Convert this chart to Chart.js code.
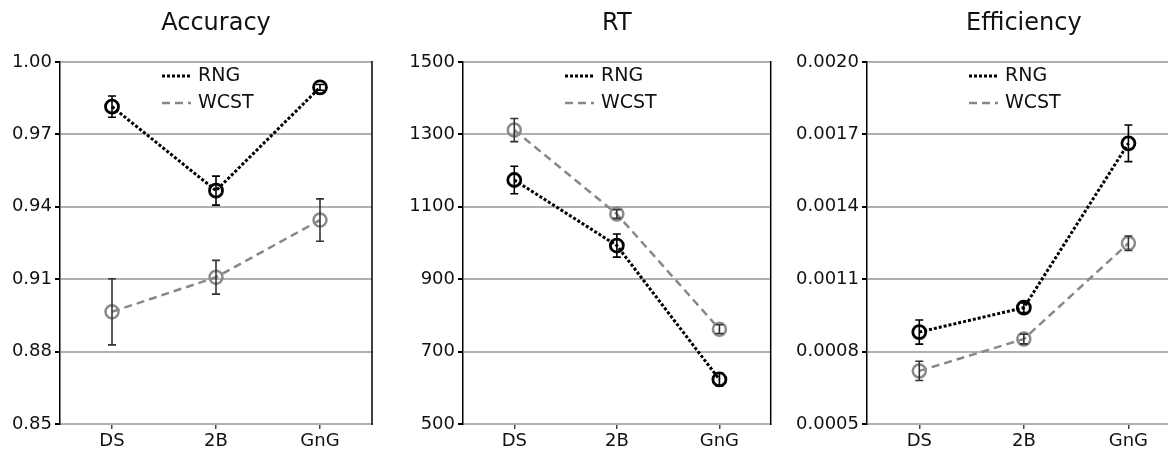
<!DOCTYPE html>
<html>
<head>
<meta charset="utf-8">
<script src="https://cdn.jsdelivr.net/npm/chart.js@4"></script>
<style>
html, body { margin: 0; padding: 0; overflow: hidden; background: #fff; width: 1168px; height: 450px; }
.panel { position: absolute; top: 0; height: 450px; }
</style>
</head>
<body>
<div class="panel" style="left:0px;width:390px"><canvas id="acc"></canvas></div>
<div class="panel" style="left:390px;width:390px"><canvas id="rt"></canvas></div>
<div class="panel" style="left:780px;width:410px"><canvas id="eff"></canvas></div>
<script>
const categories = ['DS', '2B', 'GnG'];

const accRng = [0.9815, 0.9467, 0.9895];
const accRngErr = [0.0044, 0.006, 0.0012];
const accWcst = [0.8965, 0.9108, 0.9345];
const accWcstErr = [0.0137, 0.007, 0.0088];
const accTicks = [0.85, 0.88, 0.91, 0.94, 0.97, 1.00];

const rtRng = [1174, 993, 623];
const rtRngErr = [38, 32, 18];
const rtWcst = [1312, 1080, 762];
const rtWcstErr = [32, 12, 12];
const rtTicks = [500, 700, 900, 1100, 1300, 1500];

const effRng = [0.000881, 0.000982, 0.001663];
const effRngErr = [0.00005, 0.00002, 0.000076];
const effWcst = [0.00072, 0.000852, 0.001249];
const effWcstErr = [0.00004, 0.00002, 0.00003];
const effTicks = [0.0005, 0.0008, 0.0011, 0.0014, 0.0017, 0.0020];

const FONT = 'DejaVu Sans';

// title over the plot area, error bars, right spine and the in-plot legend
const extras = {
  id: 'extras',
  afterDatasetsDraw(chart, args, opts) {
    const ctx = chart.ctx;
    const xs = chart.scales.x, ys = chart.scales.y;
    chart.data.datasets.forEach((ds) => {
      ctx.save();
      ctx.strokeStyle = ds.errColor;
      ctx.lineWidth = 1.6;
      ds.data.forEach((v, j) => {
        const x = xs.getPixelForValue(j);
        const y1 = ys.getPixelForValue(v - ds.err[j]);
        const y2 = ys.getPixelForValue(v + ds.err[j]);
        ctx.beginPath();
        ctx.moveTo(x, y1); ctx.lineTo(x, y2);
        ctx.moveTo(x - 4, y1); ctx.lineTo(x + 4, y1);
        ctx.moveTo(x - 4, y2); ctx.lineTo(x + 4, y2);
        ctx.stroke();
      });
      ctx.restore();
    });
    const a = chart.chartArea;
    ctx.save();
    ctx.strokeStyle = '#000';
    ctx.lineWidth = 1.5;
    ctx.beginPath();
    ctx.moveTo(a.right, a.top - 1); ctx.lineTo(a.right, a.bottom + 1);
    ctx.stroke();
    chart.data.datasets.forEach((ds, i) => {
      const y = a.top + 14 + i * 27;
      ctx.strokeStyle = ds.borderColor;
      ctx.lineWidth = ds.borderWidth;
      ctx.setLineDash(ds.borderDash);
      ctx.beginPath();
      ctx.moveTo(a.left + 102, y); ctx.lineTo(a.left + 131, y);
      ctx.stroke();
      ctx.setLineDash([]);
      ctx.fillStyle = '#111';
      ctx.font = '19px "' + FONT + '"';
      ctx.textBaseline = 'middle';
      ctx.textAlign = 'left';
      ctx.fillText(ds.label, a.left + 138, y);
    });
    ctx.fillStyle = '#111';
    ctx.font = '24px "' + FONT + '"';
    ctx.textAlign = 'center';
    ctx.textBaseline = 'middle';
    ctx.fillText(opts.title, (a.left + a.right) / 2, 24);
    ctx.restore();
  }
};

function makeChart(id, title, rng, rngErr, wcst, wcstErr, ticks, decimals, leftW, padRight) {
  new Chart(document.getElementById(id), {
    type: 'line',
    data: {
      labels: categories,
      datasets: [
        { label: 'RNG', data: rng, err: rngErr, errColor: '#000',
          borderColor: '#000', borderWidth: 3, borderDash: [3, 2],
          pointRadius: 6.5, pointBorderWidth: 2.8, pointBorderColor: '#000',
          pointBackgroundColor: 'rgba(0,0,0,0)', fill: false },
        { label: 'WCST', data: wcst, err: wcstErr, errColor: '#333',
          borderColor: '#888', borderWidth: 2.5, borderDash: [8, 5],
          pointRadius: 6.5, pointBorderWidth: 2.5, pointBorderColor: '#8a8a8a',
          pointBackgroundColor: 'rgba(0,0,0,0)', fill: false }
      ]
    },
    options: {
      responsive: true,
      maintainAspectRatio: false,
      animation: false,
      layout: { padding: { left: 0, right: padRight, top: 62, bottom: 0 } },
      plugins: {
        legend: { display: false },
        tooltip: { enabled: false },
        title: { display: false },
        extras: { title: title }
      },
      scales: {
        x: {
          offset: true,
          grid: { drawOnChartArea: false, tickLength: 5, tickColor: '#444', lineWidth: 1.5 },
          border: { color: '#b0b0b0', width: 2 },
          ticks: { color: '#111', padding: 2, font: { family: FONT, size: 18 } },
          afterFit(s) { s.height = 26; }
        },
        y: {
          min: ticks[0], max: ticks[ticks.length - 1],
          afterBuildTicks(s) { s.ticks = ticks.map(v => ({ value: v })); },
          grid: { color: '#b0b0b0', lineWidth: 2, tickLength: 5, tickColor: '#000' },
          border: { color: '#000', width: 1.5 },
          ticks: { color: '#111', padding: 3, font: { family: FONT, size: 18 },
            callback: v => Number(v).toFixed(decimals) },
          afterFit(s) { s.width = leftW; }
        }
      }
    },
    plugins: [extras]
  });
}

makeChart('acc', 'Accuracy', accRng, accRngErr, accWcst, accWcstErr, accTicks, 2, 60, 18);
makeChart('rt', 'RT', rtRng, rtRngErr, rtWcst, rtWcstErr, rtTicks, 0, 73, 3);
makeChart('eff', 'Efficiency', effRng, effRngErr, effWcst, effWcstErr, effTicks, 4, 87, 9);
</script>
</body>
</html>
